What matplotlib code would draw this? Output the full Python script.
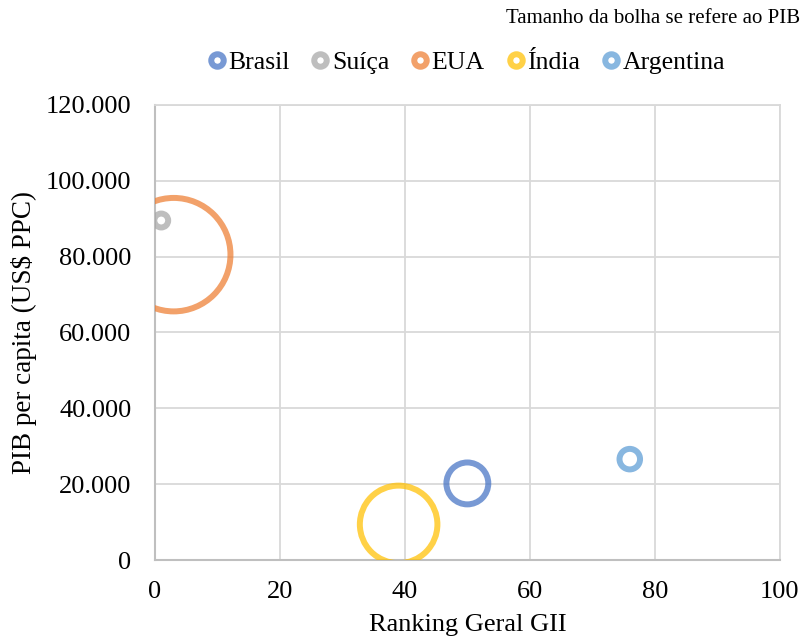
import matplotlib as mpl

mpl.use('Agg')

import matplotlib.pyplot as plt
from matplotlib.lines import Line2D
from matplotlib.ticker import FuncFormatter, MultipleLocator

OPT_FONT_NAME = 'Liberation Serif'
TICK_FONT_SIZE = 19
XLABEL_FONT_SIZE = 19
YLABEL_FONT_SIZE = 19.5
LEGEND_FONT_SIZE = 18.5
NOTE_FONT_SIZE = 15

mpl.rcParams['font.family'] = OPT_FONT_NAME
mpl.rcParams['xtick.labelsize'] = TICK_FONT_SIZE
mpl.rcParams['ytick.labelsize'] = TICK_FONT_SIZE

# office palette, drawn slightly see-through
COLOR_MAP = ('#4472C4', '#A5A5A5', '#ED7D31', '#FFC000', '#5B9BD5')
ALPHA = 0.72
RING_WIDTH = 4.3  # points

# data
paises = ['Brasil', 'Suíça', 'EUA', 'Índia', 'Argentina']
ranking_gii = [50, 1, 3, 39, 76]
pib_per_capita = [20200, 89500, 80500, 9400, 26600]
pib_total = [4.4, 0.76, 27.4, 13.4, 1.35]  # tri US$ PPC, tamanho da bolha

# largest bubble outer radius in points; area follows pib_total
MAX_RADIUS = 43.0


def BubbleSize(value):
    outer = MAX_RADIUS * (value / max(pib_total)) ** 0.5
    inner = outer - RING_WIDTH / 2.0
    return (2.0 * inner) ** 2


def DrawFigure(filename):
    fig = plt.figure(figsize=(8.03, 6.43), dpi=100)
    ax = fig.add_axes([0.193, 0.129, 0.778, 0.708])

    for i in range(len(paises)):
        ax.scatter(ranking_gii[i], pib_per_capita[i], s=BubbleSize(pib_total[i]),
                   facecolors='none', edgecolors=COLOR_MAP[i], alpha=ALPHA,
                   linewidths=RING_WIDTH, zorder=3)

    ax.set_xlim(0, 100)
    ax.set_ylim(0, 120000)
    ax.xaxis.set_major_locator(MultipleLocator(20))
    ax.yaxis.set_major_locator(MultipleLocator(20000))
    ax.yaxis.set_major_formatter(FuncFormatter(lambda v, p: '{:,.0f}'.format(v).replace(',', '.')))

    ax.grid(True, color='#D9D9D9', linewidth=1.3, zorder=0)
    ax.set_axisbelow(True)
    for side in ('top', 'right'):
        ax.spines[side].set_color('#D9D9D9')
        ax.spines[side].set_linewidth(1.3)
    for side in ('left', 'bottom'):
        ax.spines[side].set_color('#BFBFBF')
        ax.spines[side].set_linewidth(1.5)

    ax.tick_params(axis='both', length=0)
    ax.tick_params(axis='x', pad=15)
    ax.tick_params(axis='y', pad=17)

    ax.set_xlabel('Ranking Geral GII', fontsize=XLABEL_FONT_SIZE, labelpad=8)
    ax.set_ylabel(r'PIB per capita (US\$ PPC)', fontsize=YLABEL_FONT_SIZE, labelpad=6)

    handles = [Line2D([], [], linestyle='none', marker='o', markersize=9.0,
                      markerfacecolor='none', markeredgecolor=COLOR_MAP[i],
                      markeredgewidth=RING_WIDTH, alpha=ALPHA)
               for i in range(len(paises))]
    fig.legend(handles, paises, loc='center', bbox_to_anchor=(0.58, 0.903),
               ncol=len(paises), frameon=False, prop={'size': LEGEND_FONT_SIZE},
               handlelength=0.8, handletextpad=0.05, columnspacing=0.8)

    fig.text(0.996, 0.972, 'Tamanho da bolha se refere ao PIB',
             fontsize=NOTE_FONT_SIZE, ha='right', va='center')

    fig.savefig(filename, dpi=100)


if __name__ == "__main__":
    DrawFigure('out.png')
